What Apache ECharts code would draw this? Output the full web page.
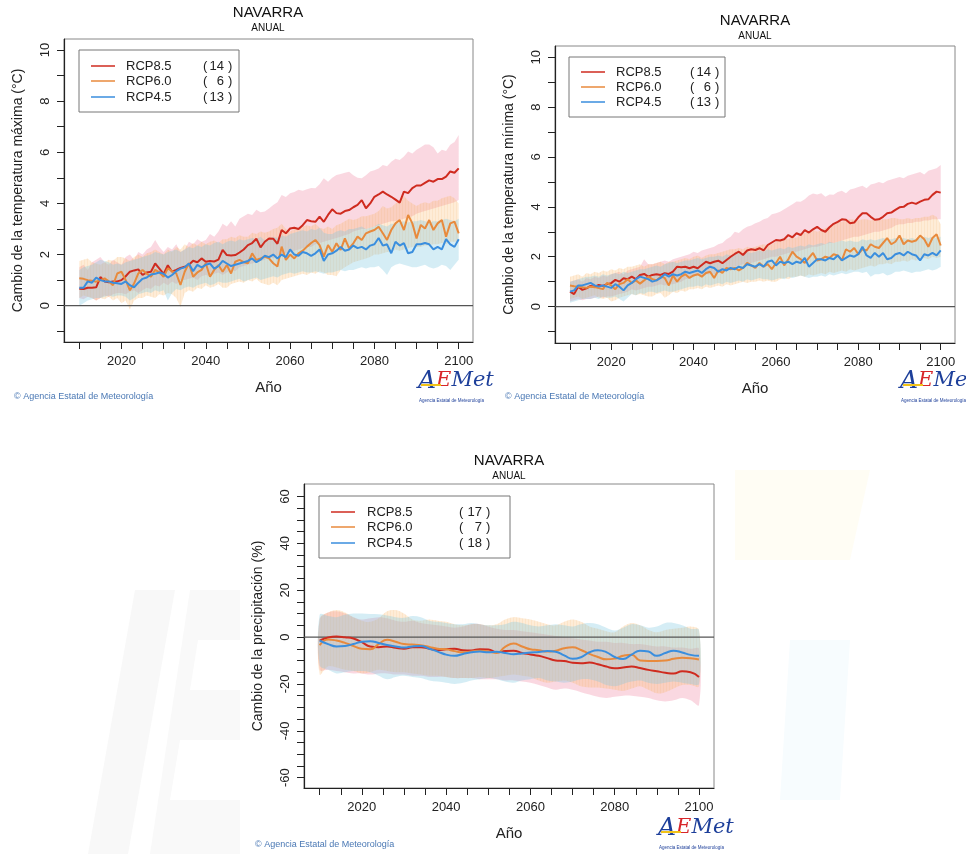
<!DOCTYPE html>
<html>
<head>
<meta charset="utf-8">
<script src="https://cdn.jsdelivr.net/npm/echarts@6/dist/echarts.min.js"></script>
<style>
  html, body { margin: 0; padding: 0; background: #fff; }
  #chart { width: 966px; height: 854px; }
</style>
</head>
<body>
<div id="chart"></div>
<script>
// años de la serie anual (temperaturas) y de la serie suavizada (precipitación)
const years = Array.from({ length: 91 }, (_, i) => 2010 + i);
const pYears = Array.from({ length: 46 }, (_, i) => 2010 + 2 * i);

const scenarios = ['RCP8.5', 'RCP6.0', 'RCP4.5'];
const nModelsTemp = [14, 6, 13];
const nModelsPrec = [17, 7, 18];

const xTicks = [2010, 2015, 2020, 2025, 2030, 2035, 2040, 2045, 2050, 2055, 2060, 2065, 2070, 2075, 2080, 2085, 2090, 2095, 2100];
const xLabels = [2020, 2040, 2060, 2080, 2100];
const tTicks = [-1, 0, 1, 2, 3, 4, 5, 6, 7, 8, 9, 10];
const tLabels = [0, 2, 4, 6, 8, 10];
const pTicks = [-60, -55, -50, -45, -40, -35, -30, -25, -20, -15, -10, -5, 0, 5, 10, 15, 20, 25, 30, 35, 40, 45, 50, 55, 60];
const pLabels = [-60, -40, -20, 0, 20, 40, 60];

// ---- temperatura máxima ----
const tmax85 = [0.66,0.65,0.70,0.70,0.72,1.12,0.95,0.92,0.95,0.95,
  1.00,1.15,1.33,1.38,1.42,1.20,1.30,1.33,1.65,1.45,
  1.24,1.58,1.33,1.40,1.48,1.52,1.60,1.76,1.70,1.85,
  1.72,1.75,1.73,1.80,2.18,1.98,1.96,1.98,2.08,2.20,
  2.37,2.45,2.62,2.28,2.50,2.63,2.62,2.42,2.96,2.83,
  3.02,3.05,3.00,3.15,3.35,3.30,3.28,3.48,3.28,3.55,
  3.77,3.62,3.60,3.70,3.74,3.85,3.94,4.13,3.81,4.00,
  4.26,4.35,4.46,4.35,4.26,4.15,4.03,4.46,4.40,4.60,
  4.70,4.70,4.80,4.90,4.85,4.95,4.95,5.05,5.25,5.20,5.37];
const tmax85Hi = [1.5,1.6,1.4,1.7,1.8,1.9,1.7,1.6,1.8,1.7,
  1.6,1.9,2.0,1.8,2.1,2.0,2.2,2.3,2.57,2.3,
  2.1,2.3,2.2,2.4,2.1,2.2,2.5,2.4,2.6,2.5,
  2.57,2.8,2.7,2.9,3.2,3.1,3.3,3.1,3.4,3.5,
  3.6,3.55,3.75,3.65,3.68,3.8,3.94,4.05,4.33,4.25,
  4.4,4.45,4.53,4.5,4.55,4.6,4.59,4.75,4.98,4.85,
  5.0,5.11,5.15,5.2,5.24,5.1,5.0,4.98,5.1,5.25,
  5.3,5.37,5.5,5.45,5.63,5.75,5.7,5.83,6.03,5.95,
  6.1,6.2,6.3,6.3,6.2,5.95,6.1,6.05,6.29,6.4,6.68];
const tmax85Lo = [0.3,0.25,0.35,0.3,0.2,0.3,0.4,0.35,0.45,0.5,
  0.5,0.45,0.55,0.6,0.5,0.6,0.7,0.65,0.8,0.75,
  0.9,0.8,0.95,0.85,1.0,1.0,1.05,1.1,1.0,1.15,
  1.2,1.15,1.25,1.3,1.2,1.3,1.4,1.35,1.5,1.55,
  1.6,1.65,1.7,1.75,1.8,1.9,1.85,1.95,2.0,2.05,
  2.1,2.15,2.2,2.25,2.3,2.3,2.4,2.45,2.5,2.55,
  2.6,2.65,2.7,2.75,2.8,2.9,2.95,3.0,3.0,3.05,
  3.1,3.15,3.2,3.25,3.3,3.3,3.35,3.4,3.45,3.5,
  3.6,3.65,3.7,3.75,3.8,3.85,3.9,3.95,4.0,4.05,4.13];
const tmax60 = [1.07,1.05,1.0,0.98,0.94,1.0,1.07,0.95,0.8,1.26,
  1.33,1.0,0.6,0.87,1.26,1.4,1.25,1.13,1.4,1.3,
  1.13,1.46,1.35,1.26,0.81,1.33,1.66,1.13,1.3,1.4,
  1.66,1.13,1.4,1.59,1.33,1.59,1.26,1.72,1.79,1.7,
  1.66,2.05,1.79,1.85,1.92,1.85,1.66,1.53,2.31,1.79,
  2.0,1.85,2.05,2.15,2.31,2.45,2.57,2.37,1.92,2.37,
  2.11,2.44,2.18,2.63,2.24,2.44,2.7,2.57,2.83,2.9,
  2.96,3.09,2.83,2.57,2.96,3.22,3.35,2.96,3.55,3.22,
  2.63,3.16,3.02,3.35,2.96,3.22,3.35,2.7,3.22,3.29,2.83];
const tmax60Hi = [1.75,1.8,1.85,1.7,1.65,1.6,1.7,1.8,1.75,1.9,
  1.9,1.85,1.75,1.9,2.0,1.9,2.05,2.1,2.2,2.1,
  2.0,2.2,2.1,2.3,2.2,2.4,2.3,2.45,2.35,2.5,
  2.4,2.5,2.55,2.45,2.6,2.6,2.7,2.65,2.75,2.7,
  2.7,2.85,2.8,2.9,2.85,2.9,3.0,3.05,3.2,3.0,
  2.9,3.0,3.05,3.1,3.15,3.1,3.2,3.05,3.0,3.1,
  3.0,3.15,3.2,3.3,3.4,3.35,3.4,3.5,3.5,3.55,
  3.6,3.7,3.9,3.8,3.85,4.0,4.1,4.3,4.1,4.0,
  3.9,4.0,4.05,4.0,4.1,4.1,4.2,4.25,4.3,4.2,4.0];
const tmax60Lo = [0.3,0.4,0.35,0.3,0.2,0.3,0.25,0.35,0.2,0.3,
  0.1,0.2,-0.15,0.2,0.3,0.3,0.4,0.35,0.3,0.45,
  0.4,0.5,0.45,0.3,-0.05,0.5,0.6,0.55,0.7,0.65,
  0.8,0.7,0.75,0.85,0.7,0.7,0.85,0.9,0.95,0.9,
  1.0,0.95,1.05,0.9,0.85,0.8,0.9,0.8,1.0,1.05,
  1.1,1.15,1.2,1.25,1.2,1.3,1.25,1.35,1.3,1.2,
  1.2,1.15,1.4,1.5,1.6,1.7,1.75,1.8,1.85,1.9,
  2.0,2.0,2.05,2.1,2.1,2.2,2.15,2.2,2.25,2.3,
  2.3,2.3,2.35,2.35,2.4,2.4,2.45,2.4,2.5,2.5,2.5];
const tmax45 = [0.7,0.7,0.95,0.9,1.1,1.0,0.95,0.95,0.9,0.88,
  0.85,0.95,0.8,0.72,0.9,1.05,1.1,1.22,1.25,1.3,
  1.25,1.1,1.2,1.35,1.45,1.5,1.65,1.35,1.6,1.5,
  1.6,1.65,1.45,1.55,1.75,1.65,1.55,1.6,1.65,1.7,
  1.75,1.85,1.7,1.8,1.95,1.9,2.0,1.85,2.0,1.9,
  2.2,2.0,1.95,2.1,2.05,1.95,2.05,2.2,1.75,2.0,
  2.05,2.15,2.3,2.15,2.2,2.35,2.25,2.3,2.2,2.35,
  2.4,2.65,2.35,2.4,2.05,2.5,2.35,2.45,2.05,2.1,
  2.4,2.4,2.45,2.4,2.2,2.3,2.2,2.6,2.4,2.3,2.6];
const tmax45Hi = [1.4,1.5,1.55,1.6,1.7,1.8,1.75,1.7,1.6,1.65,
  1.6,1.7,1.75,1.8,1.85,1.9,1.95,2.0,2.1,2.05,
  2.0,2.1,2.15,2.2,2.1,2.2,2.3,2.25,2.35,2.3,
  2.4,2.35,2.45,2.5,2.4,2.5,2.55,2.5,2.6,2.55,
  2.6,2.65,2.6,2.7,2.55,2.6,2.7,2.65,2.75,2.7,
  2.8,2.85,2.9,2.95,2.9,3.0,2.95,3.05,2.85,2.8,
  2.8,2.9,2.95,2.9,3.0,3.0,3.05,3.1,3.0,3.05,
  3.1,3.2,3.15,3.1,3.2,3.2,3.25,3.3,3.25,3.3,
  3.3,3.35,3.3,3.25,3.3,3.3,3.35,3.4,3.35,3.3,3.4];
const tmax45Lo = [0.0,0.1,0.2,0.25,0.3,0.3,0.35,0.4,0.35,0.4,
  0.4,0.35,0.2,0.3,0.45,0.5,0.55,0.5,0.6,0.55,
  0.6,0.2,0.5,0.65,0.6,0.7,0.75,0.7,0.8,0.85,
  0.9,0.8,0.85,0.95,0.9,0.9,0.95,1.0,1.05,0.95,
  1.0,1.05,1.1,1.0,1.05,1.1,1.15,1.1,1.2,1.25,
  1.3,1.25,1.3,1.35,1.3,1.3,1.35,1.3,1.25,1.3,
  1.3,1.35,1.4,1.35,1.4,1.4,1.45,1.5,1.45,1.5,
  1.5,1.55,1.4,1.2,1.5,1.6,1.65,1.6,1.55,1.5,
  1.5,1.55,1.6,1.5,1.45,1.5,1.6,1.55,1.4,1.6,1.8];

// ---- temperatura mínima ----
const tmin85 = [0.6,0.5,0.8,0.67,0.73,0.83,0.8,0.87,0.83,0.9,
  0.94,1.07,1.0,1.14,1.1,1.2,1.1,1.27,1.31,1.2,
  1.27,1.3,1.27,1.34,1.31,1.4,1.6,1.58,1.6,1.54,
  1.6,1.54,1.67,1.8,1.74,1.8,1.84,1.74,1.87,2.0,
  2.11,2.2,2.07,2.25,2.3,2.27,2.34,2.25,2.47,2.57,
  2.67,2.65,2.7,2.87,2.78,2.94,2.87,3.07,2.97,3.1,
  3.2,3.07,3.0,3.18,3.32,3.4,3.5,3.48,3.34,3.37,
  3.58,3.74,3.74,3.6,3.48,3.5,3.6,3.74,3.77,3.88,
  3.98,4.0,4.12,4.17,4.12,4.21,4.28,4.3,4.48,4.61,4.57];
const tmin85Hi = [1.0,1.05,1.1,1.0,1.15,1.1,1.2,1.15,1.25,1.2,
  1.3,1.35,1.4,1.3,1.45,1.5,1.55,1.6,1.9,1.7,
  1.7,1.75,1.8,1.85,1.8,1.9,1.95,2.0,2.05,2.1,
  2.2,2.15,2.25,2.3,2.35,2.4,2.5,2.55,2.7,2.8,
  3.0,2.95,3.1,3.2,3.25,3.34,3.4,3.5,3.55,3.7,
  3.74,3.8,3.9,4.0,4.1,4.21,4.2,4.3,4.45,4.54,
  4.5,4.55,4.4,4.5,4.48,4.6,4.65,4.55,4.7,4.74,
  4.8,4.85,4.75,4.9,4.94,5.0,4.95,5.05,5.1,5.15,
  5.2,5.15,5.25,5.3,5.35,5.4,5.3,5.45,5.5,5.55,5.68];
const tmin85Lo = [0.2,0.25,0.3,0.25,0.3,0.3,0.35,0.4,0.35,0.4,
  0.4,0.45,0.5,0.55,0.6,0.7,0.65,0.7,0.75,0.8,
  0.8,0.85,0.9,0.85,0.9,0.9,0.95,1.0,1.1,1.15,
  1.2,1.25,1.2,1.3,1.3,1.3,1.35,1.4,1.5,1.55,
  1.6,1.65,1.7,1.7,1.75,1.8,1.85,1.9,1.95,2.0,
  2.0,2.05,2.1,2.15,2.2,2.2,2.25,2.3,2.35,2.4,
  2.4,2.45,2.5,2.55,2.55,2.6,2.65,2.7,2.75,2.8,
  2.8,2.85,2.9,2.95,3.0,3.0,3.05,3.1,3.15,3.25,
  3.3,3.3,3.35,3.35,3.4,3.4,3.45,3.45,3.5,3.5,3.5];
const tmin60 = [0.85,0.82,0.8,0.78,0.75,0.8,0.78,0.74,0.7,0.95,
  0.85,0.7,0.9,0.95,1.1,0.95,1.05,0.92,1.05,1.2,
  1.1,1.05,1.2,1.15,0.85,1.25,1.0,1.2,1.3,1.15,
  1.25,1.3,1.2,1.35,1.4,1.15,1.45,1.35,1.55,1.5,
  1.55,1.45,1.55,1.75,1.65,1.55,1.75,1.6,1.7,1.5,
  1.75,2.0,1.65,1.9,2.2,2.0,1.9,1.75,1.95,2.15,
  1.85,1.9,2.0,1.95,2.1,2.05,1.85,2.3,2.2,2.35,
  2.1,2.3,2.25,2.5,2.4,2.35,2.55,2.75,2.5,2.6,
  2.85,2.5,2.65,2.6,2.65,2.85,2.7,2.4,2.75,2.9,2.45];
const tmin60Hi = [1.2,1.25,1.3,1.2,1.35,1.3,1.4,1.35,1.45,1.4,
  1.5,1.45,1.55,1.5,1.6,1.6,1.65,1.7,1.6,1.7,
  1.7,1.75,1.8,1.7,1.8,1.8,1.85,1.9,1.95,1.9,
  2.0,2.05,1.95,2.05,2.1,2.1,2.15,2.2,2.25,2.3,
  2.3,2.35,2.3,2.4,2.35,2.4,2.45,2.5,2.45,2.5,
  2.6,2.65,2.75,2.7,2.8,2.75,2.9,2.95,3.0,3.08,
  3.0,3.05,3.15,3.2,3.3,3.4,3.4,3.45,3.5,3.48,
  3.45,3.5,3.5,3.45,3.5,3.45,3.5,3.5,3.55,3.55,
  3.5,3.5,3.55,3.5,3.55,3.55,3.6,3.6,3.68,3.6,3.3];
const tmin60Lo = [0.3,0.35,0.4,0.3,0.35,0.4,0.45,0.35,0.3,0.35,
  0.2,0.25,0.35,0.4,0.45,0.5,0.45,0.5,0.45,0.4,
  0.4,0.5,0.55,0.35,0.45,0.6,0.55,0.65,0.6,0.7,
  0.7,0.75,0.7,0.8,0.75,0.8,0.85,0.8,0.9,0.85,
  0.9,0.95,1.0,0.95,1.0,1.0,1.05,1.0,1.05,1.0,
  1.0,1.1,1.15,1.1,1.2,1.2,1.25,1.2,1.3,1.25,
  1.3,1.35,1.3,1.4,1.35,1.4,1.45,1.4,1.5,1.45,
  1.5,1.55,1.6,1.65,1.6,1.7,1.7,1.75,1.7,1.8,
  1.8,1.85,1.8,1.9,1.85,1.9,1.95,1.9,2.0,1.95,2.0];
const tmin45 = [0.6,0.65,0.85,0.85,0.9,0.95,0.85,0.8,0.85,0.8,
  0.75,0.9,0.8,0.65,0.85,0.95,1.1,1.2,1.15,1.1,
  1.0,1.05,1.15,1.3,1.2,1.3,1.25,1.3,1.4,1.35,
  1.4,1.45,1.35,1.5,1.6,1.55,1.4,1.5,1.45,1.55,
  1.5,1.6,1.55,1.7,1.65,1.6,1.7,1.6,1.8,1.85,
  1.65,1.8,1.75,1.8,1.7,1.8,1.75,1.95,1.6,1.75,
  1.9,1.9,1.85,1.95,1.9,2.05,1.85,1.95,2.05,2.0,
  2.1,2.4,2.05,1.95,2.15,2.0,2.15,1.9,1.95,2.1,
  2.15,2.05,2.2,2.1,2.05,1.85,2.1,2.05,2.15,2.05,2.25];
const tmin45Hi = [1.0,1.05,1.1,1.15,1.2,1.2,1.25,1.2,1.3,1.25,
  1.3,1.35,1.3,1.4,1.35,1.4,1.45,1.5,1.5,1.55,
  1.6,1.65,1.6,1.7,1.75,1.8,1.75,1.8,1.85,1.85,
  1.9,1.95,1.9,1.95,2.0,2.0,2.05,2.0,2.1,2.05,
  2.1,2.15,2.1,2.2,2.15,2.2,2.25,2.2,2.3,2.25,
  2.3,2.35,2.3,2.4,2.35,2.4,2.45,2.4,2.5,2.45,
  2.5,2.55,2.5,2.6,2.55,2.6,2.65,2.6,2.65,2.6,
  2.6,2.7,2.65,2.7,2.65,2.7,2.75,2.7,2.7,2.75,
  2.7,2.75,2.7,2.75,2.7,2.75,2.8,2.75,2.8,2.75,2.8];
const tmin45Lo = [0.15,0.2,0.25,0.3,0.3,0.3,0.35,0.3,0.4,0.35,
  0.35,0.4,0.3,0.2,0.35,0.5,0.45,0.55,0.5,0.6,
  0.6,0.55,0.6,0.65,0.6,0.6,0.65,0.7,0.75,0.8,
  0.8,0.85,0.8,0.9,0.85,0.9,0.95,0.9,1.0,0.95,
  1.0,1.05,1.0,1.1,1.05,1.1,1.15,1.1,1.1,1.05,
  1.1,1.15,1.1,1.2,1.15,1.2,1.25,1.2,1.15,1.2,
  1.2,1.25,1.2,1.3,1.25,1.3,1.35,1.3,1.35,1.4,
  1.4,1.35,1.4,1.2,1.3,1.3,1.35,1.25,1.3,1.4,
  1.4,1.45,1.4,1.35,1.4,1.4,1.45,1.5,1.45,1.5,1.6];

// ---- precipitación (cada 2 años) ----
const prec85 = [-1.5,-0.2,0.2,-0.1,-0.6,-2.2,-4.0,-4.3,-4.0,-4.6,
  -5.0,-4.4,-4.3,-5.0,-5.6,-5.2,-5.0,-5.6,-5.7,-5.2,
  -5.3,-6.5,-6.0,-5.8,-6.8,-7.4,-8.0,-9.0,-10.0,-10.2,
  -11.0,-11.2,-10.9,-11.6,-12.6,-13.3,-13.0,-12.6,-13.2,-14.0,
  -14.6,-15.2,-15.6,-14.6,-15.0,-17.0];
const prec85Hi = [7.5,10.5,11.0,10.0,8.5,7.5,8.0,8.5,8.0,7.0,
  6.5,7.0,6.0,5.5,5.0,4.5,4.0,4.5,5.5,5.5,
  4.5,3.5,3.0,3.0,2.5,2.0,1.5,1.0,0.5,0.0,
  -0.5,-1.0,-1.5,-2.0,-2.0,-2.5,-2.5,-3.0,-3.0,-3.5,
  -4.0,-4.0,-4.5,-4.5,-5.0,-5.0];
const prec85Lo = [-14,-14,-14.5,-15,-15.5,-15.5,-16,-15.5,-15.5,-16,
  -16,-16.5,-16.5,-17,-17,-17,-17.5,-17.5,-17.5,-18,
  -18,-18,-18.5,-18.5,-19,-19.5,-20.5,-21.5,-22.5,-22,
  -22.5,-23.5,-24.5,-25.5,-26,-25.5,-25,-25,-25.5,-26,
  -27,-27.5,-27,-26,-27,-29];
const prec60 = [-3.5,-1.0,-1.5,-2.5,-3.8,-5.0,-5.2,-3.0,-1.2,-2.0,
  -3.0,-3.2,-3.5,-4.2,-5.0,-5.2,-6.0,-6.5,-6.2,-5.8,
  -6.2,-6.8,-4.2,-2.8,-4.0,-5.2,-5.6,-6.2,-5.8,-4.8,
  -4.4,-5.5,-7.2,-8.5,-9.5,-9.2,-8.0,-7.5,-10.0,-10.2,
  -10.2,-10.0,-9.3,-8.8,-9.0,-9.6];
const prec60Hi = [8.0,10.5,11.5,10.5,8.5,7.0,6.5,8.0,11.0,11.5,
  10.0,7.5,7.0,7.5,7.0,6.5,5.5,5.0,5.5,5.5,
  5.0,5.5,7.5,8.5,8.0,7.5,6.5,5.5,5.0,6.5,
  7.5,6.5,4.5,3.5,2.5,2.0,4.5,6.0,5.0,3.0,
  2.0,3.0,3.5,4.0,4.5,3.0];
const prec60Lo = [-16.0,-12.5,-13.0,-14.0,-14.5,-15.5,-15.0,-14.0,-14.5,-15.0,
  -15.0,-15.5,-16.0,-16.5,-16.5,-17.0,-17.5,-17.5,-17.5,-17.0,
  -17.5,-17.0,-16.5,-16.0,-16.5,-17.0,-18.5,-19.5,-19.0,-18.5,
  -19.5,-21.0,-21.5,-21.5,-22.0,-22.5,-23.0,-22.0,-21.0,-22.5,
  -24.0,-23.5,-22.0,-20.5,-20.5,-21.0];
const prec45 = [-1.5,-3.0,-4.0,-3.8,-3.0,-2.0,-1.8,-2.5,-3.4,-4.0,
  -4.5,-4.0,-3.8,-5.0,-6.2,-7.5,-8.0,-7.2,-6.5,-6.2,
  -6.5,-6.3,-6.8,-7.3,-7.0,-6.6,-6.4,-6.0,-6.3,-7.8,
  -9.3,-8.6,-6.5,-5.6,-6.4,-8.5,-9.4,-7.5,-5.8,-6.2,
  -8.0,-6.8,-5.8,-6.6,-7.6,-8.0];
const prec45Hi = [9.5,9.0,8.5,9.5,10.0,10.0,9.8,9.7,9.2,8.5,
  8.2,9.0,8.5,7.0,6.5,6.0,5.5,5.5,6.0,5.5,
  5.0,5.0,5.5,6.5,6.0,5.0,4.5,5.0,5.5,5.0,
  4.5,5.5,6.0,5.5,4.0,2.8,4.0,5.5,5.0,4.0,
  4.5,6.0,6.0,5.0,3.5,3.0];
const prec45Lo = [-12,-14,-15.5,-15.0,-14.5,-14.5,-15.0,-16.5,-18.0,-17.0,
  -16.5,-17.0,-17.5,-18.5,-19.0,-19.5,-20.0,-19.5,-18.5,-18.0,
  -17.5,-18.0,-19.0,-19.5,-18.5,-18.0,-17.5,-18.5,-19.0,-19.5,
  -19.0,-18.0,-18.0,-19.0,-20.5,-21.0,-20.0,-19.0,-18.5,-19.5,
  -20.0,-19.5,-19.0,-19.5,-20.0,-20.0];

// ------------------------------------------------------------------
const lineColors = ['#cf2b1f', '#e88a3c', '#3a8ede'];
const bandFills = ['rgba(238,125,155,0.30)', 'rgba(250,180,100,0.26)', 'rgba(125,200,225,0.32)'];
const FONT = 'Liberation Sans, Arial, sans-serif';

// rayado vertical para la banda RCP6.0
const hatch = document.createElement('canvas');
hatch.width = 3; hatch.height = 4;
const hctx = hatch.getContext('2d');
hctx.fillStyle = 'rgba(235,170,95,0.12)';
hctx.fillRect(0, 0, 1, 4);
const hatchFill = { image: hatch, repeat: 'repeat' };

function bandSeries(idx, xs, lo, hi, fill, smooth, pattern) {
  return {
    type: 'custom',
    xAxisIndex: idx,
    yAxisIndex: idx,
    silent: true,
    z: 1,
    data: [[xs[0], lo[0]]],
    renderItem: function (params, api) {
      const pts = [];
      for (let i = 0; i < xs.length; i++) pts.push(api.coord([xs[i], hi[i]]));
      for (let i = xs.length - 1; i >= 0; i--) pts.push(api.coord([xs[i], lo[i]]));
      const children = [{ type: 'polygon', shape: { points: pts, smooth: smooth }, style: { fill: fill } }];
      if (pattern) children.push({ type: 'polygon', shape: { points: pts, smooth: smooth }, style: { fill: pattern } });
      return { type: 'group', children: children };
    }
  };
}

function lineSeries(idx, xs, ys, color, smooth) {
  return {
    type: 'line',
    xAxisIndex: idx,
    yAxisIndex: idx,
    data: xs.map((x, i) => [x, ys[i]]),
    showSymbol: false,
    smooth: smooth,
    silent: true,
    z: 4,
    lineStyle: { color: color, width: 2 },
    itemStyle: { color: color }
  };
}

function zeroLine(idx, x0, x1) {
  return {
    type: 'line', xAxisIndex: idx, yAxisIndex: idx, silent: true, z: 3,
    data: [[x0, 0], [x1, 0]], showSymbol: false,
    lineStyle: { color: '#555', width: 1.2 }
  };
}

function xAxisOf(idx, min, max) {
  return {
    type: 'value', gridIndex: idx, min: min, max: max,
    name: 'Año', nameLocation: 'middle', nameGap: 38,
    nameTextStyle: { fontFamily: FONT, fontSize: 15, color: '#222' },
    axisLine: { show: true, onZero: false, lineStyle: { color: '#222', width: 1.2 } },
    axisTick: { show: true, length: 7, customValues: xTicks, lineStyle: { color: '#222' } },
    axisLabel: { customValues: xLabels, formatter: v => String(v), margin: 13, fontFamily: FONT, fontSize: 13, color: '#222' },
    splitLine: { show: false }
  };
}

function yAxisOf(idx, min, max, name, ticks, labels) {
  return {
    type: 'value', gridIndex: idx, min: min, max: max,
    name: name, nameLocation: 'middle', nameGap: 39, nameRotate: 90,
    nameTextStyle: { fontFamily: FONT, fontSize: 14, color: '#222' },
    axisLine: { show: true, onZero: false, lineStyle: { color: '#222', width: 1.2 } },
    axisTick: { show: true, length: 7, customValues: ticks, lineStyle: { color: '#222' } },
    axisLabel: { customValues: labels, formatter: v => String(v), rotate: 90, margin: 12, fontFamily: FONT, fontSize: 13, color: '#222' },
    splitLine: { show: false }
  };
}

function titleTexts(cx, y) {
  return [
    { type: 'text', x: cx, y: y, style: { text: 'NAVARRA', font: '15px ' + FONT, fill: '#111', textAlign: 'center', textVerticalAlign: 'middle' } },
    { type: 'text', x: cx, y: y + 15, style: { text: 'ANUAL', font: '10px ' + FONT, fill: '#111', textAlign: 'center', textVerticalAlign: 'middle' } }
  ];
}

function legendBox(x0, y0, w, h, lineX, textX, parenX, closeX, rowYs, counts) {
  const els = [{ type: 'rect', shape: { x: x0, y: y0, width: w, height: h }, style: { fill: '#fff', stroke: '#777', lineWidth: 1 }, z: 10 }];
  for (let i = 0; i < 3; i++) {
    const y = rowYs[i];
    els.push({ type: 'line', shape: { x1: lineX, y1: y, x2: lineX + 24, y2: y }, style: { stroke: lineColors[i], lineWidth: 1.5 }, z: 11 });
    els.push({ type: 'text', x: textX, y: y, style: { text: scenarios[i], font: '13px ' + FONT, fill: '#222', textVerticalAlign: 'middle' }, z: 11 });
    els.push({ type: 'text', x: parenX, y: y, style: { text: '(', font: '13px ' + FONT, fill: '#222', textVerticalAlign: 'middle' }, z: 11 });
    els.push({ type: 'text', x: closeX - 4, y: y, style: { text: String(counts[i]), font: '13px ' + FONT, fill: '#222', textAlign: 'right', textVerticalAlign: 'middle' }, z: 11 });
    els.push({ type: 'text', x: closeX, y: y, style: { text: ')', font: '13px ' + FONT, fill: '#222', textVerticalAlign: 'middle' }, z: 11 });
  }
  return els;
}

function footer(x, y) {
  return [{ type: 'text', x: x, y: y, style: { text: '© Agencia Estatal de Meteorología', font: '9px ' + FONT, fill: '#4a78b4', textVerticalAlign: 'middle' } }];
}

function logo(x, y) {
  return [
    { type: 'text', x: x, y: y, style: {
        text: '{a|A}{e|E}{m|Met}',
        rich: {
          a: { font: 'italic 25px DejaVu Serif, serif', fill: '#1d3f9a' },
          e: { font: 'italic 21px DejaVu Serif, serif', fill: '#d8262a' },
          m: { font: 'italic 21px DejaVu Serif, serif', fill: '#1d3f9a' }
        }, textVerticalAlign: 'middle' } },
    { type: 'rect', shape: { x: x + 3, y: y + 3, width: 20, height: 2 }, style: { fill: '#f2c318' } },
    { type: 'text', x: x + 1, y: y + 17, style: { text: 'Agencia Estatal de Meteorología', font: '4.5px ' + FONT, fill: '#1d3f9a' } }
  ];
}

// marca de agua muy tenue del fondo inferior
const watermark = [
  { type: 'polygon', shape: { points: [[88, 854], [128, 854], [175, 590], [135, 590]] }, style: { fill: '#f8f8f8' }, z: -10 },
  { type: 'polygon', shape: { points: [[150, 854], [240, 854], [240, 800], [170, 800], [180, 740], [240, 740], [240, 690], [190, 690], [198, 640], [240, 640], [240, 590], [190, 590]] }, style: { fill: '#f9f9f9' }, z: -10 },
  { type: 'polygon', shape: { points: [[735, 470], [870, 470], [850, 560], [735, 560]] }, style: { fill: '#fffdf4' }, z: -10 },
  { type: 'polygon', shape: { points: [[790, 640], [850, 640], [840, 800], [780, 800]] }, style: { fill: '#f7fcfe' }, z: -10 }
];

const graphics = [].concat(
  watermark,
  titleTexts(268, 13), titleTexts(755, 21), titleTexts(509, 461),
  legendBox(79, 50, 160, 62, 91, 126, 203, 228, [66, 81, 97], nModelsTemp),
  legendBox(569, 57, 156, 60, 581, 616, 690, 715, [72, 87, 102], nModelsTemp),
  legendBox(319, 496, 191, 62, 331, 367, 459, 486, [512, 527, 543], nModelsPrec),
  footer(14, 397), footer(505, 397), footer(255, 845),
  logo(418, 381), logo(900, 381), logo(658, 828)
);

const chart = echarts.init(document.getElementById('chart'));
chart.setOption({
  animation: false,
  backgroundColor: '#fff',
  grid: [
    { left: 64, top: 39, width: 409, height: 303, show: true, borderColor: '#888', borderWidth: 1 },
    { left: 555, top: 46, width: 400, height: 297, show: true, borderColor: '#888', borderWidth: 1 },
    { left: 304, top: 484, width: 410, height: 304, show: true, borderColor: '#888', borderWidth: 1, backgroundColor: '#fff' }
  ],
  xAxis: [
    xAxisOf(0, 2006.37, 2103.39),
    xAxisOf(1, 2006.36, 2103.47),
    xAxisOf(2, 2006.28, 2103.56)
  ],
  yAxis: [
    yAxisOf(0, -1.42, 10.43, 'Cambio de la temperatura máxima (°C)', tTicks, tLabels),
    yAxisOf(1, -1.46, 10.45, 'Cambio de la temperatura mínima (°C)', tTicks, tLabels),
    yAxisOf(2, -64.4, 65.3, 'Cambio de la precipitación (%)', pTicks, pLabels)
  ],
  series: [
    bandSeries(0, years, tmax85Lo, tmax85Hi, bandFills[0], 0),
    bandSeries(0, years, tmax60Lo, tmax60Hi, bandFills[1], 0, hatchFill),
    bandSeries(0, years, tmax45Lo, tmax45Hi, bandFills[2], 0),
    zeroLine(0, 2006.37, 2103.39),
    lineSeries(0, years, tmax85, lineColors[0], false),
    lineSeries(0, years, tmax60, lineColors[1], false),
    lineSeries(0, years, tmax45, lineColors[2], false),

    bandSeries(1, years, tmin85Lo, tmin85Hi, bandFills[0], 0),
    bandSeries(1, years, tmin60Lo, tmin60Hi, bandFills[1], 0, hatchFill),
    bandSeries(1, years, tmin45Lo, tmin45Hi, bandFills[2], 0),
    zeroLine(1, 2006.36, 2103.47),
    lineSeries(1, years, tmin85, lineColors[0], false),
    lineSeries(1, years, tmin60, lineColors[1], false),
    lineSeries(1, years, tmin45, lineColors[2], false),

    bandSeries(2, pYears, prec85Lo, prec85Hi, bandFills[0], 0.35),
    bandSeries(2, pYears, prec60Lo, prec60Hi, bandFills[1], 0.35, hatchFill),
    bandSeries(2, pYears, prec45Lo, prec45Hi, bandFills[2], 0.35),
    zeroLine(2, 2006.28, 2103.56),
    lineSeries(2, pYears, prec85, lineColors[0], 0.5),
    lineSeries(2, pYears, prec60, lineColors[1], 0.5),
    lineSeries(2, pYears, prec45, lineColors[2], 0.5)
  ],
  graphic: graphics
});
</script>
</body>
</html>
